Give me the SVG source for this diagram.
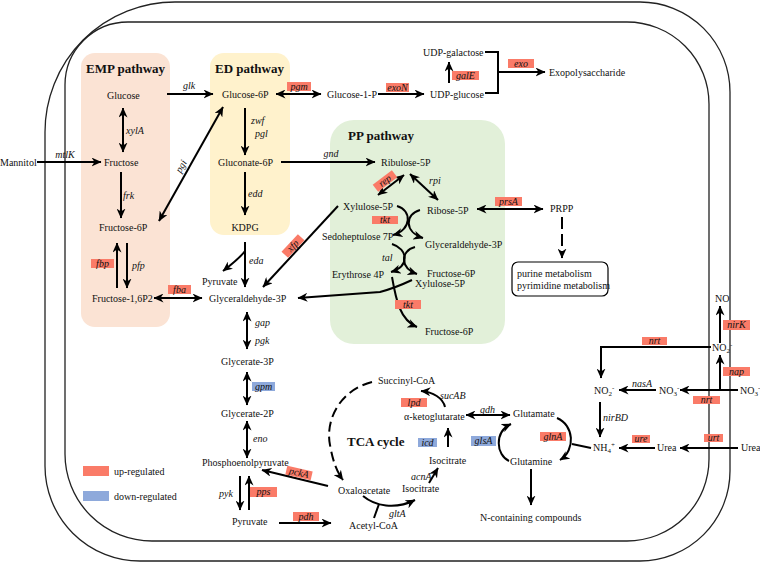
<svg xmlns="http://www.w3.org/2000/svg" width="760" height="563" viewBox="0 0 760 563">
<style>
text{font-family:"Liberation Serif","Times New Roman",serif}
.t{font-family:"Liberation Serif","Times New Roman",serif;font-size:10px;fill:#111}
.i{font-style:italic}
.h{font-weight:bold;font-size:13px}
.c{fill:none;stroke:#000;stroke-width:2}
.m{marker-end:url(#ah)}
.d{marker-start:url(#ah);marker-end:url(#ah)}
.r{fill:#FA7B68}
.b{fill:#8EA9DB}
.mem{fill:none;stroke:#222;stroke-width:1.3}
</style>
<defs>
<marker id="ah" viewBox="0 0 10 9" refX="9.5" refY="4.5" markerWidth="10" markerHeight="9" markerUnits="userSpaceOnUse" orient="auto-start-reverse"><path d="M0,0 L10,4.5 L0,9 L3,4.5 Z" fill="#000"/></marker>
</defs>
<rect width="760" height="563" fill="#fff"/>
<g id="membranes">
<path class="mem" d="M45,132 A130,130 0 0 1 175,2 L640,2 A90,90 0 0 1 730,92 L730,471 A90,90 0 0 1 640,561 L140,561 A95,95 0 0 1 45,466 Z"/>
<path class="mem" d="M65,85 A63,63 0 0 1 128,22 L627,22 A82,82 0 0 1 709,104 L709,459 A82,82 0 0 1 627,541 L152,541 A87,87 0 0 1 65,454 Z"/>
</g>
<g id="pathway-boxes">
<g id="emp"><rect x="81" y="53" width="89" height="274" rx="14" fill="#FBE3D4"/><text class="t h" x="86" y="73">EMP pathway</text></g>
<g id="ed"><rect x="210" y="53" width="80" height="182" rx="14" fill="#FFF2CC"/><text class="t h" x="215" y="73">ED pathway</text></g>
<g id="pp"><rect x="330" y="120" width="175" height="224" rx="24" fill="#E2F0D9"/><text class="t h" x="348" y="140">PP pathway</text></g>
</g>
<g id="connectors" class="c">
<path class="m" d="M37,162 L101,162"/>
<path class="d" d="M123,108 L123,152"/>
<path class="m" d="M167,94 L213,94"/>
<path class="d" d="M159,221 L223,107"/>
<path class="m" d="M121,172 L121,218"/>
<path class="m" d="M117,288 L117,243"/>
<path class="m" d="M127,243 L127,288"/>
<path class="d" d="M154,298 L202,298"/>
<path class="m" d="M245,108 L245,155"/>
<path class="m" d="M245,172 L245,215"/>
<path class="m" d="M245,242 L245,287"/>
<path class="m" d="M245,251 C240,258 232,264 223,271"/>
<path class="d" d="M276,94 L321,94"/>
<path class="m" d="M378,94 L424,94"/>
<path class="m" d="M449,83 L449,62"/>
<path d="M485,52 L498,52 L498,93 L485,93"/>
<path class="m" d="M498,72 L545,72"/>
<path class="m" d="M281,162 L375,162"/>
<path class="d" d="M378,195 L404,175"/>
<path class="d" d="M410,174 L438,200"/>
<path class="d" d="M477,209 L543,209"/>
<path class="m" d="M562,217 L562,258" stroke-dasharray="12 5"/>
<path class="m" d="M338,206 L263,287"/>
<path class="m" d="M397,206 C412,210 412,230 393,235"/>
<path class="m" d="M420,210 C405,214 404,232 423,238"/>
<path class="m" d="M392,244 C408,249 410,266 391,272"/>
<path class="m" d="M415,247 C400,251 400,268 417,274"/>
<path class="m" d="M412,280 Q395,288 380,292 L298,298"/>
<path class="m" d="M392,277 C396,300 400,320 417,327"/>
<path class="d" d="M247,312 L247,349"/>
<path class="d" d="M247,372 L247,405"/>
<path class="d" d="M247,421 L247,458"/>
<path class="m" d="M240,476 L240,510"/>
<path class="m" d="M249,510 L249,476"/>
<path class="m" d="M279,523 L331,523"/>
<path class="m" d="M328,486 L262,470"/>
<path class="m" d="M372,382 C340,390 325,420 330,445 C333,462 337,472 343,480" stroke-dasharray="10 5"/>
<path class="m" d="M363,496 C375,506 395,510 415,500"/>
<path d="M374,518 L379,504"/>
<path class="m" d="M429,483 L438,468"/>
<path class="m" d="M448,447 L448,428"/>
<path class="m" d="M445,407 C443,398 433,392 421,391"/>
<path class="d" d="M466,415 L510,415"/>
<path class="m" d="M509,461 C496,455 494,432 511,424"/>
<path class="m" d="M557,418 C574,425 576,450 560,460"/>
<path d="M591,448 L572,444"/>
<path class="m" d="M531,469 L531,505"/>
<path class="m" d="M655,448 L619,448"/>
<path class="m" d="M738,448 L680,448"/>
<path class="m" d="M656,390 L619,390"/>
<path class="m" d="M738,390 L680,390"/>
<path class="m" d="M720,390 L720,355"/>
<path class="m" d="M720,343 L720,306"/>
<path class="m" d="M711,347 L601,347 L601,378"/>
<path class="m" d="M600,402 L600,437"/>
</g>
<g id="gene-labels">
<text class="t i" x="189" y="89" text-anchor="middle">glk</text>
<text class="t i" x="126" y="133.5">xylA</text>
<text class="t i" x="65" y="157.5" text-anchor="middle">mtlK</text>
<text class="t i" transform="translate(184,168) rotate(-60)" text-anchor="middle">pgi</text>
<text class="t i" x="123" y="198.5">frk</text>
<text class="t i" x="132" y="268.5">pfp</text>
<text class="t i" x="251" y="123.5">zwf</text>
<text class="t i" x="255" y="136.5">pgl</text>
<text class="t i" x="331" y="156.5" text-anchor="middle">gnd</text>
<text class="t i" x="248" y="196.5">edd</text>
<text class="t i" x="249" y="263.5">eda</text>
<text class="t i" x="429" y="183.5">rpi</text>
<text class="t i" x="382" y="260.5">tal</text>
<text class="t i" x="255" y="325.5">gap</text>
<text class="t i" x="255" y="343.5">pgk</text>
<text class="t i" x="253" y="441.5">eno</text>
<text class="t i" x="233" y="496.5" text-anchor="end">pyk</text>
<text class="t i" x="440" y="398.5">sucAB</text>
<text class="t i" x="480" y="412.5">gdh</text>
<text class="t i" x="411" y="479.5">acnA</text>
<text class="t i" x="389" y="516.5">gltA</text>
<text class="t i" x="632" y="386.5">nasA</text>
<text class="t i" x="603" y="420.5">nirBD</text>
<g class="t i" text-anchor="middle">
<rect class="r" x="287" y="82" width="24" height="9"/><text x="299" y="89.5">pgm</text>
<rect class="r" x="386" y="83" width="23" height="9"/><text x="397.5" y="90.5">exoN</text>
<rect class="r" x="452" y="71" width="27" height="9"/><text x="465.5" y="78.5">galE</text>
<rect class="r" x="508" y="59" width="26" height="9"/><text x="521" y="66.5">exo</text>
<rect class="r" x="91" y="259" width="23" height="9"/><text x="102.5" y="266.5">fbp</text>
<rect class="r" x="168" y="285" width="23" height="9"/><text x="179.5" y="292.5">fba</text>
<rect class="r" x="495" y="197" width="27" height="9"/><text x="508.5" y="204.5">prsA</text>
<rect class="r" x="372" y="216" width="26" height="8"/><text x="385" y="223">tkt</text>
<rect class="r" x="395" y="300" width="26" height="9"/><text x="408" y="307.5">tkt</text>
<g transform="translate(385,181) rotate(-37)"><rect class="r" x="-12" y="-4.5" width="24" height="9"/><text y="3">rep</text></g>
<g transform="translate(293,246) rotate(-47)"><rect class="r" x="-12" y="-4.5" width="24" height="9"/><text y="3">xfp</text></g>
<g transform="translate(299,473) rotate(13)"><rect class="r" x="-13" y="-4.5" width="26" height="9"/><text y="3">pckA</text></g>
<rect class="r" x="250" y="487" width="27" height="10"/><text x="263.5" y="495">pps</text>
<rect class="r" x="293" y="512" width="26" height="9"/><text x="306" y="519.5">pdh</text>
<rect class="r" x="401" y="398" width="26" height="9"/><text x="414" y="405.5">lpd</text>
<rect class="r" x="540" y="432" width="26" height="9"/><text x="553" y="439.5">glnA</text>
<rect class="r" x="632" y="435" width="18" height="8"/><text x="641" y="442">ure</text>
<rect class="r" x="704" y="434" width="19" height="8"/><text x="713.5" y="441">urt</text>
<rect class="r" x="693" y="396" width="27" height="8"/><text x="706.5" y="403">nrt</text>
<rect class="r" x="642" y="337" width="25" height="8"/><text x="654.5" y="344">nrt</text>
<rect class="r" x="723" y="320" width="27" height="10"/><text x="736.5" y="328">nirK</text>
<rect class="r" x="723" y="367" width="27" height="9"/><text x="736.5" y="374.5">nap</text>
<rect class="b" x="252" y="382" width="23" height="9"/><text x="263.5" y="389.5">gpm</text>
<rect class="b" x="418" y="438" width="19" height="9"/><text x="427.5" y="445.5">icd</text>
<rect class="b" x="471" y="436" width="25" height="10"/><text x="483.5" y="444">glsA</text>
</g>
</g>
<g id="nodes" class="t">
<g id="n-glucose"><text x="107" y="99">Glucose</text></g>
<g id="n-fructose"><text x="104" y="166">Fructose</text></g>
<g id="n-mannitol"><text x="0" y="166">Mannitol</text></g>
<g id="n-f6p"><text x="99" y="231">Fructose-6P</text></g>
<g id="n-f16p2"><text x="92" y="302">Fructose-1,6P2</text></g>
<g id="n-g6p"><text x="222" y="98">Glucose-6P</text></g>
<g id="n-gluconate"><text x="218" y="166">Gluconate-6P</text></g>
<g id="n-kdpg"><text x="245" y="231" text-anchor="middle">KDPG</text></g>
<g id="n-pyruvate1"><text x="202" y="285">Pyruvate</text></g>
<g id="n-gap"><text x="209" y="302">Glyceraldehyde-3P</text></g>
<g id="n-g1p"><text x="327" y="98">Glucose-1-P</text></g>
<g id="n-udpglc"><text x="430" y="98">UDP-glucose</text></g>
<g id="n-udpgal"><text x="423" y="55.5">UDP-galactose</text></g>
<g id="n-exo"><text x="549" y="75.5">Exopolysaccharide</text></g>
<g id="n-ru5p"><text x="381" y="166">Ribulose-5P</text></g>
<g id="n-xu5p"><text x="343" y="210">Xylulose-5P</text></g>
<g id="n-r5p"><text x="427" y="214">Ribose-5P</text></g>
<g id="n-prpp"><text x="550" y="212">PRPP</text></g>
<g id="n-purine"><rect x="512" y="262" width="96" height="34" rx="6" fill="#fff" stroke="#000" stroke-width="1.2"/><text x="517" y="277">purine metabolism</text><text x="517" y="288.5">pyrimidine metabolism</text></g>
<g id="n-s7p"><text x="322" y="240">Sedoheptulose 7P</text></g>
<g id="n-gap2"><text x="425" y="248">Glyceraldehyde-3P</text></g>
<g id="n-e4p"><text x="332" y="278">Erythrose 4P</text></g>
<g id="n-f6p2"><text x="427" y="277">Fructose-6P</text></g>
<g id="n-xu5p2"><text x="415" y="287">Xylulose-5P</text></g>
<g id="n-f6p3"><text x="425" y="335">Fructose-6P</text></g>
<g id="n-g3p"><text x="221" y="365">Glycerate-3P</text></g>
<g id="n-g2p"><text x="221" y="417">Glycerate-2P</text></g>
<g id="n-pep"><text x="202" y="466">Phosphoenolpyruvate</text></g>
<g id="n-pyruvate2"><text x="232" y="525">Pyruvate</text></g>
<g id="n-accoa"><text x="349" y="528.5">Acetyl-CoA</text></g>
<g id="n-oaa"><text x="338" y="494">Oxaloacetate</text></g>
<g id="n-icit1"><text x="402" y="492">Isocitrate</text></g>
<g id="n-icit2"><text x="429" y="463.5">Isocitrate</text></g>
<g id="n-akg"><text x="404" y="420">α-ketoglutarate</text></g>
<g id="n-succoa"><text x="378" y="384">Succinyl-CoA</text></g>
<g id="n-tca"><text class="h" x="347" y="446">TCA cycle</text></g>
<g id="n-glu"><text x="513" y="417">Glutamate</text></g>
<g id="n-gln"><text x="510" y="465">Glutamine</text></g>
<g id="n-ncomp"><text x="480" y="521">N-containing compounds</text></g>
<g id="n-nh4"><text x="593" y="451">NH<tspan font-size="7" dy="2">4</tspan><tspan font-size="7" dy="-6">+</tspan></text></g>
<g id="n-urea1"><text x="657" y="451">Urea</text></g>
<g id="n-urea2"><text x="741" y="451">Urea</text></g>
<g id="n-no2a"><text x="594" y="394">NO<tspan font-size="7" dy="2">2</tspan><tspan font-size="7" dy="-6">-</tspan></text></g>
<g id="n-no3a"><text x="659" y="394">NO<tspan font-size="7" dy="2">3</tspan><tspan font-size="7" dy="-6">-</tspan></text></g>
<g id="n-no3b"><text x="740" y="394">NO<tspan font-size="7" dy="2">3</tspan><tspan font-size="7" dy="-6">-</tspan></text></g>
<g id="n-no2b"><text x="712" y="351">NO<tspan font-size="7" dy="2">2</tspan><tspan font-size="7" dy="-6">-</tspan></text></g>
<g id="n-no"><text x="715" y="302">NO</text></g>
</g>
<g id="legend" class="t">
<rect class="r" x="83" y="466" width="26" height="10"/><text x="114" y="474.5">up-regulated</text>
<rect class="b" x="83" y="491" width="26" height="10"/><text x="114" y="499.5">down-regulated</text>
</g>
</svg>
